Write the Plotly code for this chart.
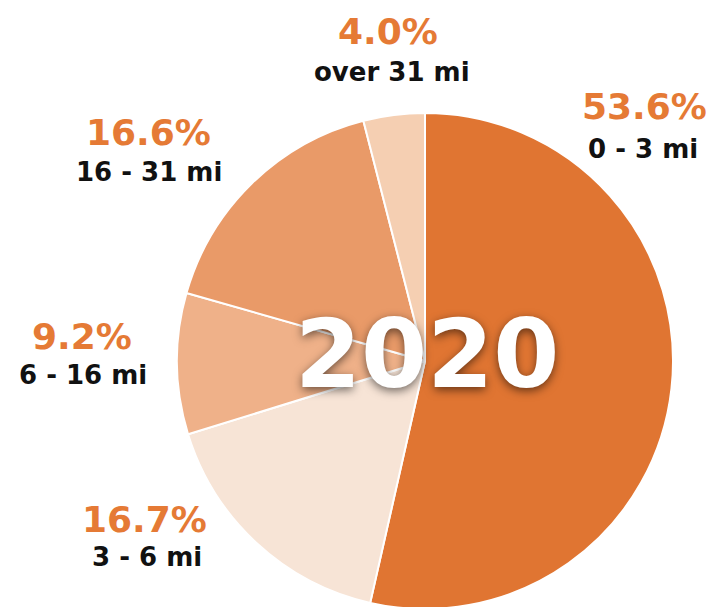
import plotly.graph_objects as go

categories = ["0 - 3 mi", "3 - 6 mi", "6 - 16 mi", "16 - 31 mi", "over 31 mi"]
values = [53.6, 16.7, 9.2, 16.6, 4.0]
pct_labels = ["53.6%", "16.7%", "9.2%", "16.6%", "4.0%"]
colors = ["#E07532", "#F7E4D6", "#EFB189", "#E99A68", "#F5CFB2"]
year = "2020"

W, H = 715, 607
OFF = 8  # page body margin
cx, cy, r = 425 - OFF, 361 - OFF, 248

fig = go.Figure(go.Pie(
    labels=categories, values=values, sort=False, direction="clockwise",
    rotation=0, marker=dict(colors=colors, line=dict(color="white", width=2)),
    textinfo="none", hoverinfo="label+percent", showlegend=False,
    domain=dict(x=[(cx - r) / W, (cx + r) / W],
                y=[max(0, (H - cy - r) / H), (H - cy + r) / H]),
))

# visual centres (screen px) for percent / category text
label_pos = [(644, 107, 643, 149), (144, 519, 147, 557), (82, 336, 83, 375),
             (148, 132, 149, 172), (388, 32, 392, 72)]

FONT = "DejaVu Sans"
ann = []
for pct, cat, (px, py, qx, qy) in zip(pct_labels, categories, label_pos):
    ann.append(dict(x=(px - OFF) / W, y=1 - (py - OFF) / H, xref="paper", yref="paper",
                    text=pct, showarrow=False, xanchor="center", yanchor="middle",
                    font=dict(family=FONT, size=36, color="#E57A35", weight="bold")))
    ann.append(dict(x=(qx - OFF) / W, y=1 - (qy - OFF) / H, xref="paper", yref="paper",
                    text=cat, showarrow=False, xanchor="center", yanchor="middle",
                    font=dict(family=FONT, size=26, color="#111111", weight="bold")))
ann.append(dict(x=(427 - OFF) / W, y=1 - (354 - OFF) / H, xref="paper", yref="paper",
                text=year, showarrow=False, xanchor="center", yanchor="middle",
                font=dict(family=FONT, size=95, color="white", weight="bold",
                          shadow="0px 3px 10px rgba(0,0,0,0.55)")))

fig.update_layout(width=W, height=H, margin=dict(l=0, r=0, t=0, b=0),
                  paper_bgcolor="white", plot_bgcolor="white", annotations=ann)
fig.write_html("out.html")
